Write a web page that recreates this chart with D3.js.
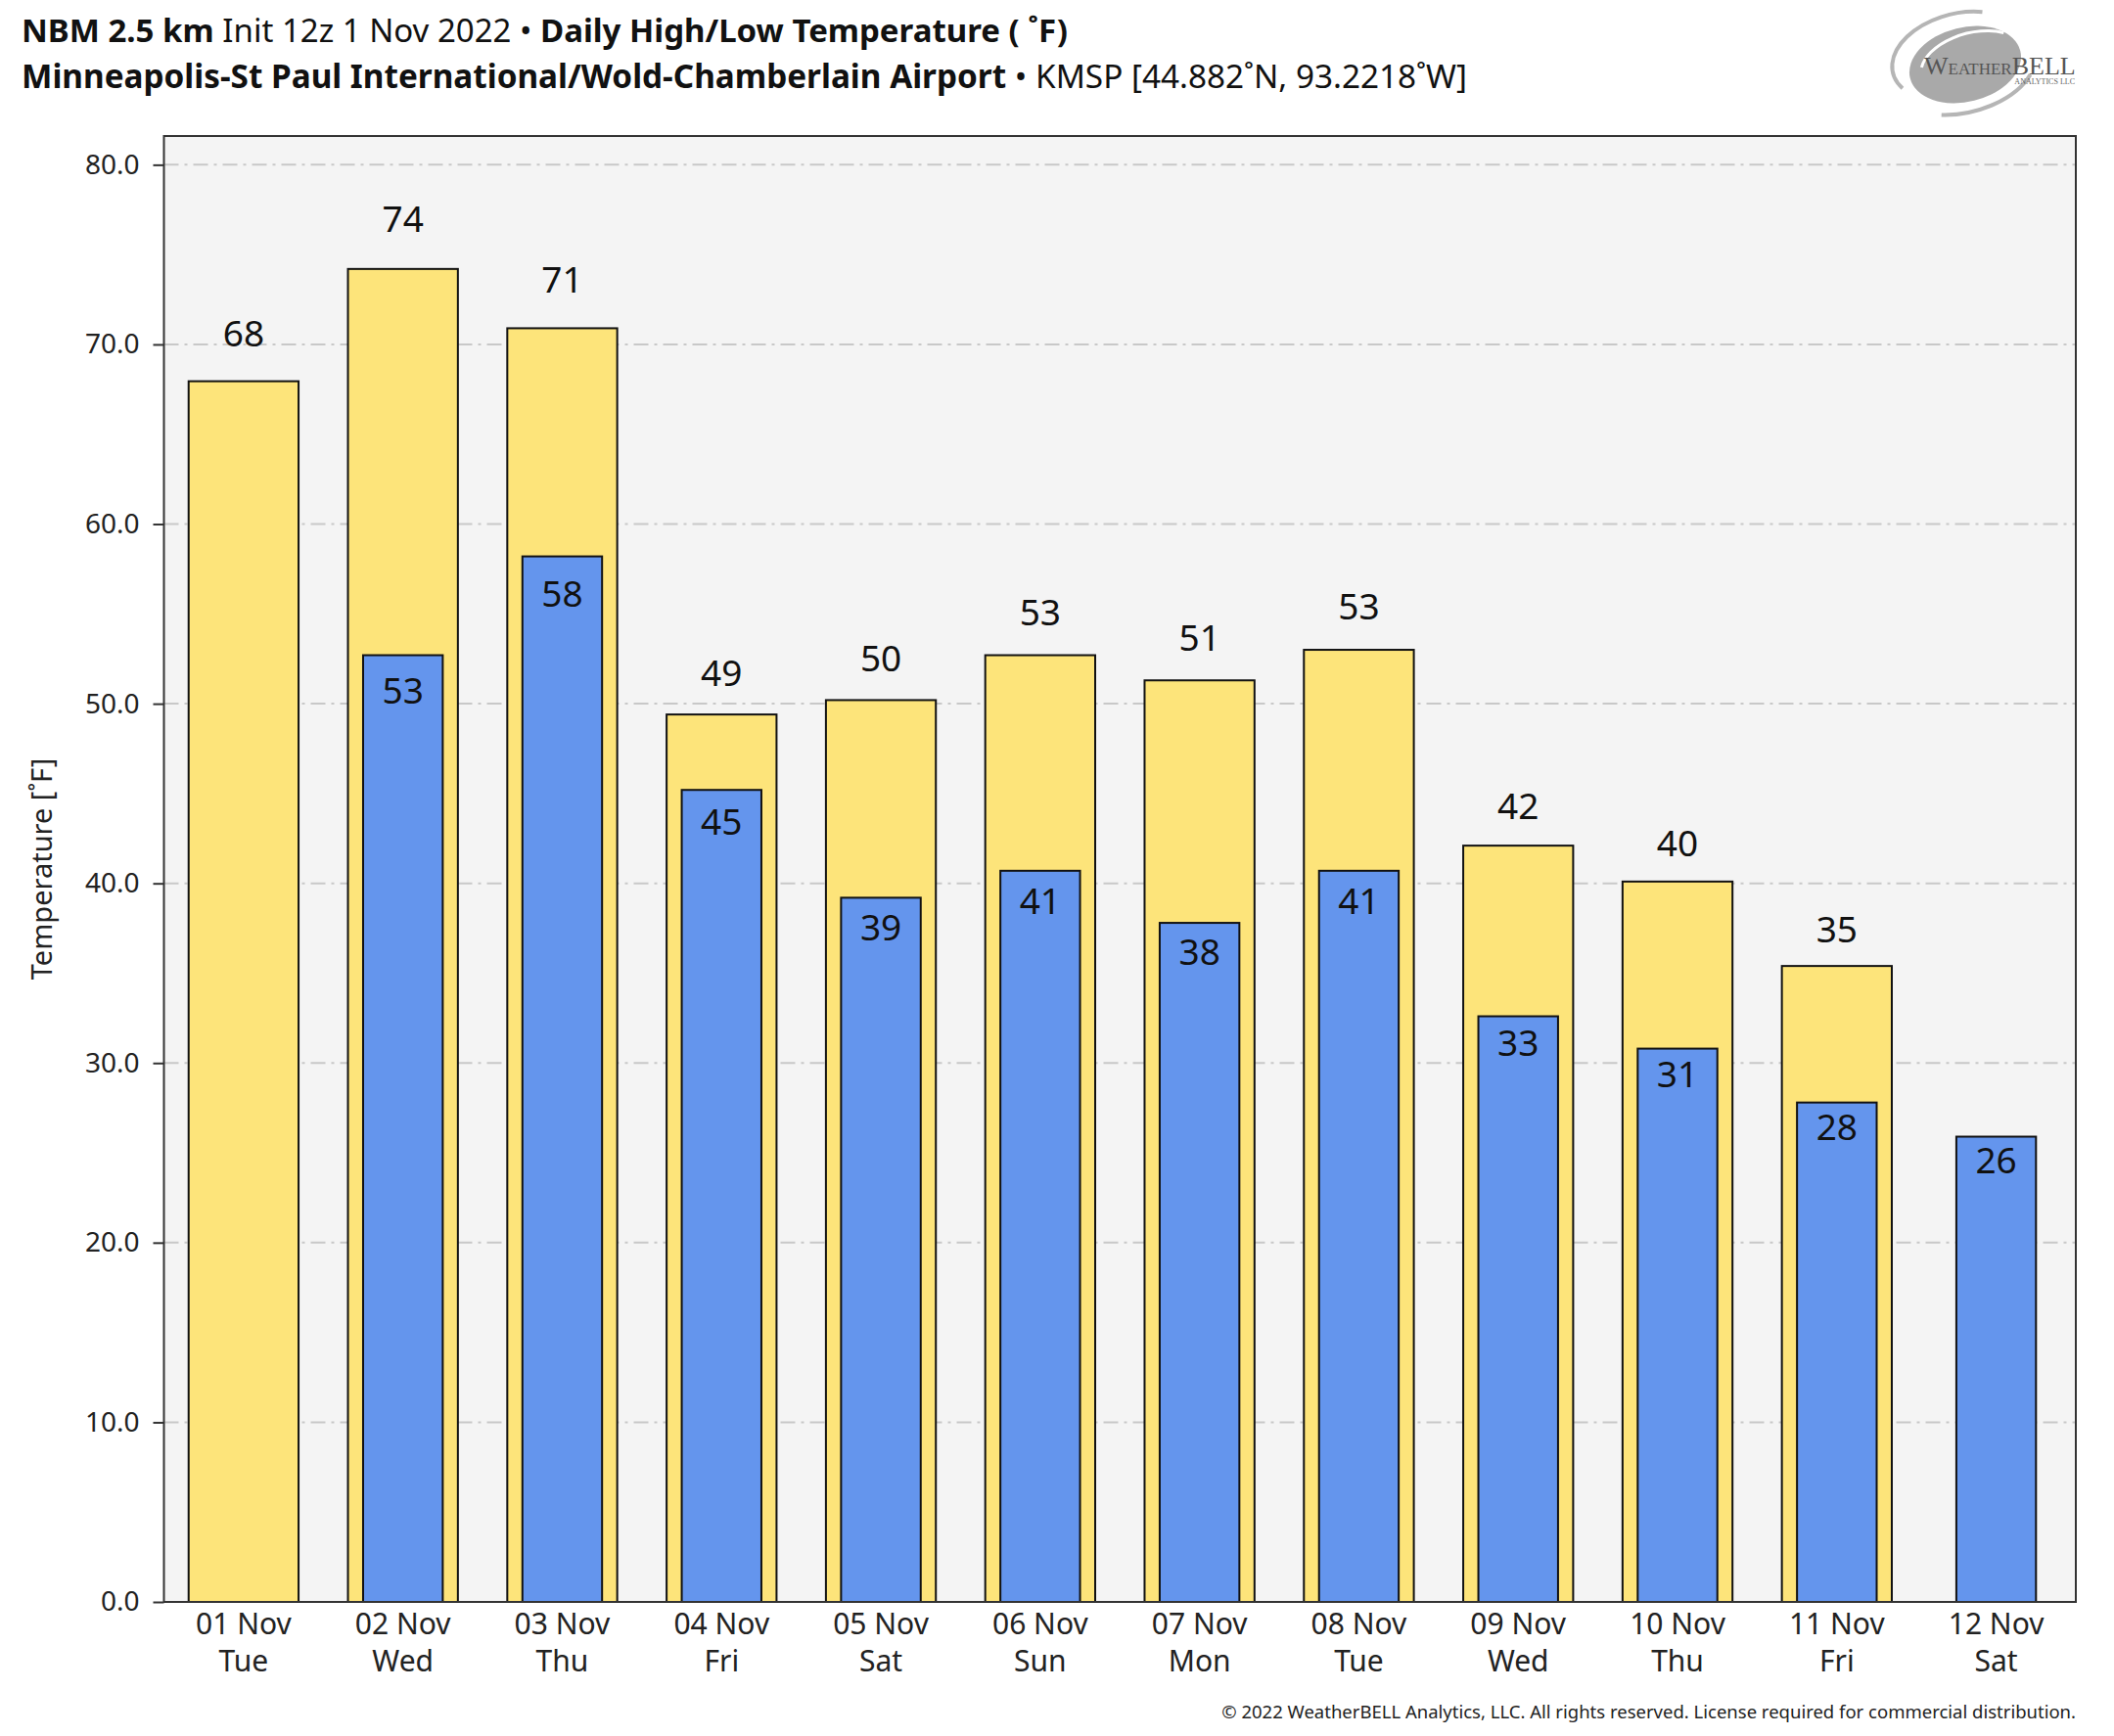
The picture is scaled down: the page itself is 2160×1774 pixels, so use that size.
<!DOCTYPE html>
<html>
<head>
<meta charset="utf-8">
<script src="https://cdn.jsdelivr.net/npm/d3@7"></script>
<style>
  body { margin: 0; background: #fff; }
  svg { display: block; font-family: "Noto Sans", "Open Sans", sans-serif; }
</style>
</head>
<body>
<div id="chart"></div>
<script>
// Daily high/low forecast values (deg F)
const days = ['01 Nov', '02 Nov', '03 Nov', '04 Nov', '05 Nov', '06 Nov',
              '07 Nov', '08 Nov', '09 Nov', '10 Nov', '11 Nov', '12 Nov'];
const weekdays = ['Tue', 'Wed', 'Thu', 'Fri', 'Sat', 'Sun',
                  'Mon', 'Tue', 'Wed', 'Thu', 'Fri', 'Sat'];
const highs = [67.95, 74.2, 70.9, 49.4, 50.2, 52.7, 51.3, 53.0, 42.1, 40.1, 35.4, null];
const lows  = [null, 52.7, 58.2, 45.2, 39.2, 40.7, 37.8, 40.7, 32.6, 30.8, 27.8, 25.9];
const yTicks = [0, 10, 20, 30, 40, 50, 60, 70, 80];

const W = 2160, H = 1774;
const margin = { left: 167.5, right: 39, top: 139, bottom: 137 };

const svg = d3.select('#chart').append('svg')
    .attr('width', W)
    .attr('height', H);

svg.append('rect').attr('width', W).attr('height', H).attr('fill', '#fff');

const x = d3.scaleBand()
    .domain(days)
    .range([margin.left, W - margin.right])
    .padding(0);

const y = d3.scaleLinear()
    .domain([0, 81.6])
    .range([H - margin.bottom, margin.top]);

// Plot background
svg.append('rect')
    .attr('x', margin.left)
    .attr('y', margin.top)
    .attr('width', W - margin.left - margin.right)
    .attr('height', H - margin.top - margin.bottom)
    .attr('fill', '#f4f4f4');

// Dash-dot grid
svg.append('g')
    .selectAll('line')
    .data(yTicks.filter(d => d > 0))
    .join('line')
    .attr('x1', margin.left)
    .attr('x2', W - margin.right)
    .attr('y1', d => y(d))
    .attr('y2', d => y(d))
    .attr('stroke', '#c8c8c8')
    .attr('stroke-width', 2)
    .attr('stroke-dasharray', '15,6,3,6');

const rows = days.map((d, i) => ({ day: d, hi: highs[i], lo: lows[i] }));

// High bars (yellow, wide)
const hiW = x.bandwidth() * 0.69;
svg.append('g')
    .selectAll('rect')
    .data(rows.filter(r => r.hi != null))
    .join('rect')
    .attr('x', r => x(r.day) + (x.bandwidth() - hiW) / 2)
    .attr('y', r => y(r.hi))
    .attr('width', hiW)
    .attr('height', r => y(0) - y(r.hi))
    .attr('fill', '#fde47a')
    .attr('stroke', '#111')
    .attr('stroke-width', 2);

// Low bars (blue, narrow)
const loW = x.bandwidth() * 0.5;
svg.append('g')
    .selectAll('rect')
    .data(rows.filter(r => r.lo != null))
    .join('rect')
    .attr('x', r => x(r.day) + (x.bandwidth() - loW) / 2)
    .attr('y', r => y(r.lo))
    .attr('width', loW)
    .attr('height', r => y(0) - y(r.lo))
    .attr('fill', '#6495ed')
    .attr('stroke', '#111')
    .attr('stroke-width', 2);

// Value labels (offset grows a little with the value, as in the original)
svg.append('g')
    .selectAll('text')
    .data(rows.filter(r => r.hi != null))
    .join('text')
    .attr('x', r => x(r.day) + x.bandwidth() / 2)
    .attr('y', r => y(r.hi) - (12 + 0.35 * r.hi))
    .attr('text-anchor', 'middle')
    .attr('font-size', 37)
    .attr('fill', '#111')
    .text(r => Math.round(r.hi));

svg.append('g')
    .selectAll('text')
    .data(rows.filter(r => r.lo != null))
    .join('text')
    .attr('x', r => x(r.day) + x.bandwidth() / 2)
    .attr('y', r => y(r.lo) + (26.5 + 0.43 * r.lo))
    .attr('text-anchor', 'middle')
    .attr('font-size', 37)
    .attr('fill', '#111')
    .text(r => Math.round(r.lo));

// Plot frame
svg.append('rect')
    .attr('x', margin.left)
    .attr('y', margin.top)
    .attr('width', W - margin.left - margin.right)
    .attr('height', H - margin.top - margin.bottom)
    .attr('fill', 'none')
    .attr('stroke', '#333')
    .attr('stroke-width', 2);

// Y axis
const yAxis = svg.append('g')
    .attr('transform', `translate(${margin.left},0)`)
    .call(d3.axisLeft(y).tickValues(yTicks).tickFormat(d3.format('.1f')).tickSize(11).tickPadding(14));
yAxis.select('.domain').remove();
yAxis.selectAll('line').attr('stroke', '#333').attr('stroke-width', 2);
yAxis.selectAll('text')
    .attr('font-family', '"Noto Sans", sans-serif')
    .attr('font-size', 28)
    .attr('fill', '#222');

svg.append('text')
    .attr('transform', `translate(53,${(margin.top + H - margin.bottom) / 2}) rotate(-90)`)
    .attr('text-anchor', 'middle')
    .attr('font-size', 29)
    .attr('fill', '#222')
    .text('Temperature [˚F]');

// X axis with two-line labels
const xAxis = svg.append('g')
    .attr('transform', `translate(0,${H - margin.bottom})`)
    .call(d3.axisBottom(x).tickSize(0).tickPadding(0));
xAxis.select('.domain').remove();
xAxis.selectAll('text')
    .attr('font-family', '"Noto Sans", sans-serif')
    .attr('font-size', 30)
    .attr('fill', '#222')
    .attr('dy', null)
    .attr('y', 0)
    .text(null)
    .each(function(d, i) {
        const t = d3.select(this);
        t.append('tspan').attr('x', 0).attr('y', 33).text(d);
        t.append('tspan').attr('x', 0).attr('y', 71).text(weekdays[i]);
    });

// Title lines
const title1 = svg.append('text').attr('x', 22).attr('y', 43).attr('font-size', 33).attr('fill', '#111');
title1.append('tspan').attr('font-weight', 700).text('NBM 2.5 km');
title1.append('tspan').text(' Init 12z 1 Nov 2022 • ');
title1.append('tspan').attr('font-weight', 700).text('Daily High/Low Temperature ( ˚F)');

const title2 = svg.append('text').attr('x', 22).attr('y', 90).attr('font-size', 33.3).attr('fill', '#111');
title2.append('tspan').attr('font-weight', 700).text('Minneapolis-St Paul International/Wold-Chamberlain Airport');
title2.append('tspan').text(' • KMSP [44.882˚N, 93.2218˚W]');

// Footer
svg.append('text')
    .attr('x', W - 39)
    .attr('y', 1756)
    .attr('text-anchor', 'end')
    .attr('font-size', 18.5)
    .attr('fill', '#222')
    .text('© 2022 WeatherBELL Analytics, LLC. All rights reserved. License required for commercial distribution.');

// Logo
const logo = svg.append('g').attr('transform', 'translate(2008,66) rotate(-14)');
logo.append('ellipse').attr('rx', 58).attr('ry', 38).attr('fill', '#a9a9a9');
logo.append('path')
    .attr('d', 'M -68,8 A 70,44 0 0 1 30,-48')
    .attr('fill', 'none').attr('stroke', '#b5b5b5').attr('stroke-width', 4);
logo.append('path')
    .attr('d', 'M -36,44 A 75,44 0 0 0 62,26')
    .attr('fill', 'none').attr('stroke', '#b5b5b5').attr('stroke-width', 4);
logo.append('path')
    .attr('d', 'M -44,-8 A 55,32 0 0 1 46,-22')
    .attr('fill', 'none').attr('stroke', '#fff').attr('stroke-width', 3);
const logoText = svg.append('text')
    .attr('x', 1966).attr('y', 76)
    .attr('font-family', '"Liberation Serif", serif')
    .attr('fill', '#555');
logoText.append('tspan').attr('font-size', 26).text('W');
logoText.append('tspan').attr('font-size', 17).text('EATHER');
logoText.append('tspan').attr('font-size', 26).text('BELL');
svg.append('text')
    .attr('x', 2120).attr('y', 86)
    .attr('text-anchor', 'end')
    .attr('font-family', '"Liberation Serif", serif')
    .attr('font-size', 8)
    .attr('fill', '#666')
    .text('ANALYTICS LLC');
</script>
</body>
</html>
